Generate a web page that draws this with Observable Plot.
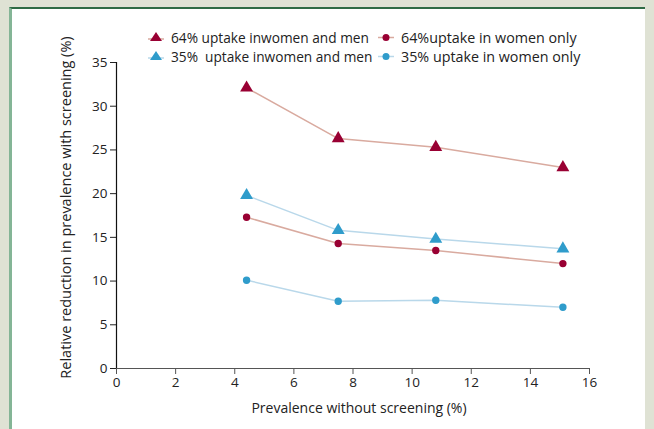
<!DOCTYPE html>
<html>
<head>
<meta charset="utf-8">
<script src="https://cdn.jsdelivr.net/npm/d3@7"></script>
<script src="https://cdn.jsdelivr.net/npm/@observablehq/plot@0.6"></script>
<style>
  html, body { margin: 0; padding: 0; }
  body { width: 654px; height: 429px; background: #dfe2d4; position: relative; overflow: hidden; font-family: "Open Sans", sans-serif; }
  #panel { position: absolute; left: 9px; top: 7px; width: 636px; height: 430px; background: #fff;
           border-top: 2px solid #2f6b45; border-left: 3px solid #84b596; box-sizing: border-box; }
  #chart { position: absolute; left: 0; top: 0; }
  #legend { position: absolute; left: 0; top: 0; width: 654px; height: 70px; color: #222; }
  .item { position: absolute; display: flex; align-items: center; white-space: pre; height: 18px; }
  .item svg { margin-right: 6px; }
</style>
</head>
<body>
<div id="panel"></div>
<div id="chart"></div>
<div id="legend"></div>
<script>
// Data
const prevalence = [4.4, 7.5, 10.8, 15.1];
const both64 = [32.1, 26.3, 25.3, 23.0];
const both35 = [19.8, 15.8, 14.8, 13.7];
const women64 = [17.3, 14.3, 13.5, 12.0];
const women35 = [10.1, 7.7, 7.8, 7.0];
const seriesNames = [
  "64% uptake inwomen and men",
  "35%  uptake inwomen and men",
  "64%uptake in women only",
  "35% uptake in women only"
];
const xTicks = [0, 2, 4, 6, 8, 10, 12, 14, 16];
const yTicks = [0, 5, 10, 15, 20, 25, 30, 35];

const red = "#990033", redLine = "#d9aa9f";
const blue = "#2f9ccb", blueLine = "#b9d8ea";
const seriesStyle = [
  {values: both64, color: red, line: redLine, symbol: "triangle", r: 4.8},
  {values: both35, color: blue, line: blueLine, symbol: "triangle", r: 4.8},
  {values: women64, color: red, line: redLine, symbol: "circle", r: 3.7},
  {values: women35, color: blue, line: blueLine, symbol: "circle", r: 3.7}
];

const series = seriesStyle.map((s, i) => ({
  ...s,
  name: seriesNames[i],
  data: prevalence.map((x, j) => ({x, y: s.values[j]}))
}));

const marks = [
  Plot.axisY({ticks: yTicks, tickSize: 6, tickPadding: 3, fontSize: 13.5, label: null, stroke: "#222"}),
  Plot.axisX({ticks: xTicks, tickSize: 6, tickPadding: 3, fontSize: 13.5, label: null, stroke: "#555"}),
  Plot.ruleY([0], {stroke: "#555", strokeWidth: 1.2}),
  Plot.ruleX([0], {stroke: "#111", strokeWidth: 1.2}),
  Plot.text(["Relative reduction in prevalence with screening (%)"], {
    frameAnchor: "left", textAnchor: "middle", dx: -50, dy: -8, rotate: -90, fontSize: 14.5, fill: "#222"
  }),
  Plot.text(["Prevalence without screening (%)"], {
    frameAnchor: "bottom", textAnchor: "middle", dx: 6, dy: 44, fontSize: 14, fill: "#222"
  })
];
for (const s of series) {
  marks.push(Plot.line(s.data, {x: "x", y: "y", stroke: s.line, strokeWidth: 1.5}));
}
for (const s of series) {
  marks.push(Plot.dot(s.data, {x: "x", y: "y", symbol: () => s.symbol, r: s.r, fill: s.color, stroke: "none"}));
}

const chart = Plot.plot({
  width: 654,
  height: 429,
  marginLeft: 116,
  marginRight: 65,
  marginTop: 62,
  marginBottom: 61,
  style: {background: "transparent", fontFamily: "Open Sans, sans-serif", color: "#222", overflow: "visible"},
  x: {domain: [0, 16]},
  y: {domain: [0, 35]},
  symbol: {type: "identity"},
  marks
});
document.getElementById("chart").appendChild(chart);

// Legend
const legendPos = [
  {left: 147, top: 28, size: 13.7}, {left: 147, top: 47, size: 13.7},
  {left: 377, top: 28, size: 14.3}, {left: 377, top: 47, size: 14.3}
];
const legend = document.getElementById("legend");
series.forEach((s, i) => {
  const d = document.createElement("div");
  d.className = "item";
  d.style.left = legendPos[i].left + "px";
  d.style.top = legendPos[i].top + "px";
  d.style.fontSize = legendPos[i].size + "px";
  const marker = s.symbol === "triangle"
    ? `<polygon points="9,3 15,12 3,12" fill="${s.color}"/>`
    : `<circle cx="9" cy="8.5" r="3.5" fill="${s.color}"/>`;
  const ly = s.symbol === "triangle" ? 10 : 8.5;
  d.innerHTML = `<svg width="18" height="16"><line x1="1" x2="17" y1="${ly}" y2="${ly}" stroke="${s.line}" stroke-width="1.5"/>${marker}</svg><span>${s.name}</span>`;
  legend.appendChild(d);
});
</script>
</body>
</html>
